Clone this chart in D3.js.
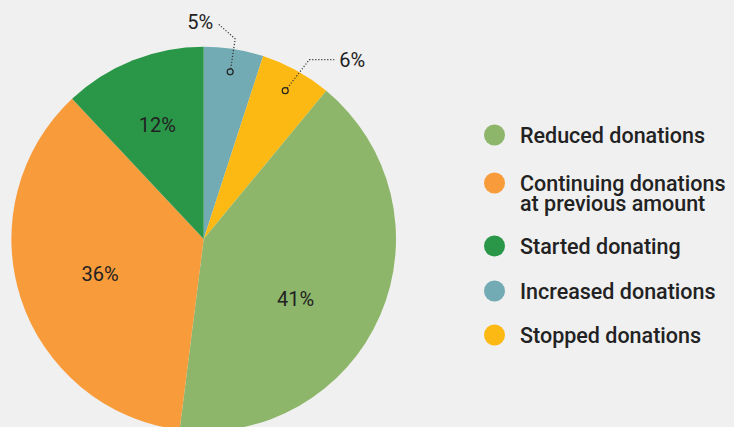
<!DOCTYPE html>
<html>
<head>
<meta charset="utf-8">
<script src="https://cdn.jsdelivr.net/npm/d3@7"></script>
<style>
  html, body { margin: 0; padding: 0; background: #f0f0f0; }
  svg { display: block; }
  text { font-family: Roboto, "Open Sans", sans-serif; fill: #222; }
</style>
</head>
<body>
<svg id="chart" width="734" height="427"></svg>
<script>
// Share of respondents by change in donations, in percent (clockwise from 12 o'clock)
const categories = ["Increased donations", "Stopped donations", "Reduced donations", "Continuing donations at previous amount", "Started donating"];
const values = [5, 6, 41, 36, 12];
const colors = ["#72abb4", "#fdb913", "#8db66a", "#f89b3b", "#2a9748"];

// Legend order and line breaks
const legendOrder = ["Reduced donations", "Continuing donations at previous amount", "Started donating", "Increased donations", "Stopped donations"];
const legendLines = [["Reduced donations"], ["Continuing donations", "at previous amount"], ["Started donating"], ["Increased donations"], ["Stopped donations"]];

// Slices labelled outside with a leader line
const outsideLabels = ["Increased donations", "Stopped donations"];

const svg = d3.select("#chart");
const cx = 203.7, cy = 239, R = 192.3;

const color = d3.scaleOrdinal().domain(categories).range(colors);
const data = categories.map((c, i) => ({ category: c, value: values[i] }));

const pie = d3.pie().sort(null).value(d => d.value);
const arcs = pie(data);
const arc = d3.arc().innerRadius(0).outerRadius(R);
const labelArc = d3.arc().innerRadius(R * 0.6).outerRadius(R * 0.6);
const dotArc = d3.arc().innerRadius(R * 0.88).outerRadius(R * 0.88);

// Small hand nudges for the inside labels
const labelNudge = {
  "Started donating": [-4, -7],
  "Continuing donations at previous amount": [6, -1],
  "Reduced donations": [-14, 14]
};

const g = svg.append("g").attr("transform", `translate(${cx},${cy})`);

g.selectAll("path.slice")
  .data(arcs)
  .join("path")
  .attr("class", "slice")
  .attr("d", arc)
  .attr("fill", d => color(d.data.category));

// Inside labels
const pct = d => `${d.data.value}%`;
g.selectAll("text.inside")
  .data(arcs.filter(d => !outsideLabels.includes(d.data.category)))
  .join("text")
  .attr("class", "inside")
  .attr("transform", d => {
    const [x, y] = labelArc.centroid(d);
    const [nx, ny] = labelNudge[d.data.category] || [0, 0];
    return `translate(${x + nx},${y + ny})`;
  })
  .attr("text-anchor", "middle")
  .attr("dominant-baseline", "central")
  .style("font-size", "20px")
  .text(pct);

// Outside labels with dotted leaders
const callouts = arcs.filter(d => outsideLabels.includes(d.data.category));
callouts.forEach(d => {
  const [dx, dy] = dotArc.centroid(d);
  let pts, tx, ty, anchor;
  if (d.data.category === "Increased donations") {
    pts = [[dx + 0.5, dy - 3], [dx + 5, dy - 33], [dx - 12, dy - 48]];
    tx = dx - 17; ty = dy - 50; anchor = "end";
  } else {
    pts = [[dx + 2, dy - 2.5], [dx + 24, dy - 31], [dx + 49, dy - 31]];
    tx = dx + 54; ty = dy - 31; anchor = "start";
  }
  g.append("path")
    .attr("d", d3.line()(pts))
    .attr("fill", "none")
    .attr("stroke", "#333")
    .attr("stroke-width", 1.2)
    .attr("stroke-dasharray", "1.2,1.8");
  g.append("circle")
    .attr("cx", dx).attr("cy", dy).attr("r", 3)
    .attr("fill", "none")
    .attr("stroke", "#222")
    .attr("stroke-width", 1.2);
  g.append("text")
    .attr("x", tx).attr("y", ty)
    .attr("text-anchor", anchor)
    .attr("dominant-baseline", "central")
    .style("font-size", "20px")
    .text(pct(d));
});

// Legend
const legendPos = { "Reduced donations": 135, "Continuing donations at previous amount": 183, "Started donating": 246, "Increased donations": 291, "Stopped donations": 335 };
const legend = svg.append("g");
legendOrder.forEach((c, i) => {
  const y = legendPos[c];
  legend.append("circle")
    .attr("cx", 494.5).attr("cy", y).attr("r", 10.5)
    .attr("fill", color(c));
  legendLines[i].forEach((line, j) => {
    legend.append("text")
      .attr("x", 520).attr("y", y + j * 20.5)
      .attr("dominant-baseline", "central")
      .style("font-size", "21.5px")
      .style("font-weight", 500)
      .text(line);
  });
});
</script>
</body>
</html>
